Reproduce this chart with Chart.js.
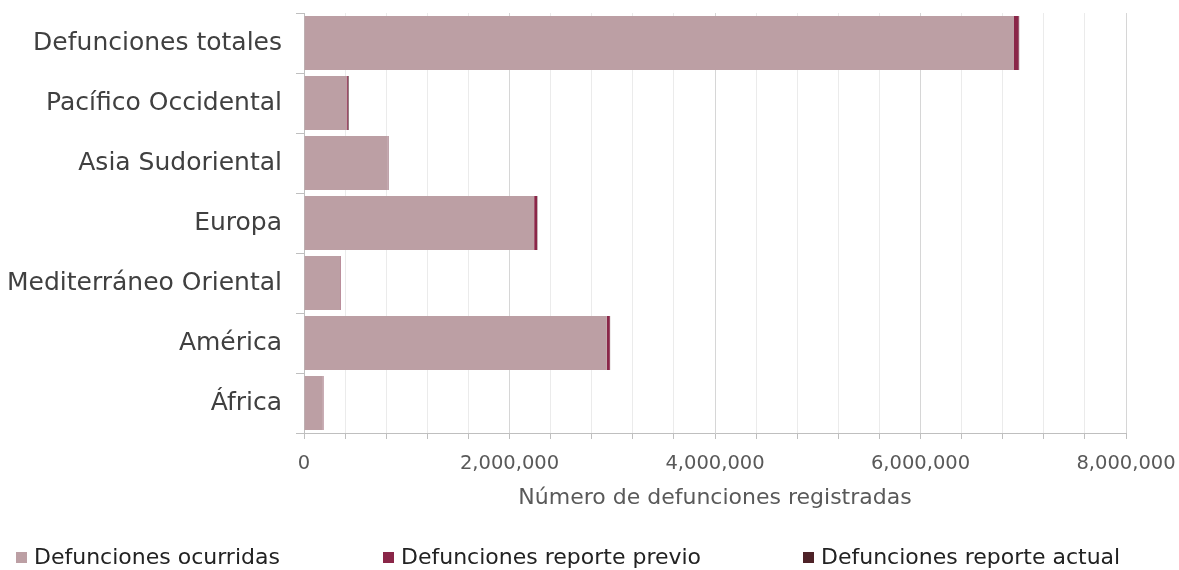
<!DOCTYPE html>
<html>
<head>
<meta charset="utf-8">
<script src="https://cdn.jsdelivr.net/npm/chart.js@4/dist/chart.umd.min.js"></script>
<style>
  html, body { margin: 0; padding: 0; background: #fff; overflow: hidden; }
  #wrap { position: relative; width: 1179px; height: 570px; }
  #legend { position: absolute; left: 0; top: 544px; width: 1179px; height: 26px;
            font-family: 'DejaVu Sans', sans-serif; font-size: 22px; color: #222; }
  .item { position: absolute; top: 0; line-height: 26px; white-space: nowrap; }
  .box { display: inline-block; width: 11px; height: 11px; margin-right: 7px; vertical-align: 1px; }
</style>
</head>
<body>
<div id="wrap">
  <canvas id="chart"></canvas>
  <div id="legend"></div>
</div>
<script>
const categories = ['Defunciones totales', 'Pacífico Occidental', 'Asia Sudoriental', 'Europa', 'Mediterráneo Oriental', 'América', 'África'];
const ocurridas = [6910000, 414000, 815000, 2240000, 352000, 2946000, 183000];
const reportePrevio = [45000, 12000, 4000, 28000, 4000, 30000, 4000];
const reporteActual = [5000, 8000, 3000, 3000, 2000, 3000, 2000];
const seriesNames = ['Defunciones ocurridas', 'Defunciones reporte previo', 'Defunciones reporte actual'];
const seriesColors = ['#bc9fa4', '#8a2648', '#4e2228'];

const font = "'DejaVu Sans', sans-serif";

// legend drawn as html so the item spacing matches the original
const legendX = [16, 383, 803];
const legendEl = document.getElementById('legend');
seriesNames.forEach((name, i) => {
    const item = document.createElement('div');
    item.className = 'item';
    item.style.left = legendX[i] + 'px';
    item.innerHTML = '<span class="box" style="background:' + seriesColors[i] + '"></span>' + name;
    legendEl.appendChild(item);
});

new Chart(document.getElementById('chart'), {
    type: 'bar',
    data: {
        labels: categories,
        datasets: [
            { label: seriesNames[0], data: ocurridas, backgroundColor: seriesColors[0] },
            { label: seriesNames[1], data: reportePrevio, backgroundColor: seriesColors[1] },
            { label: seriesNames[2], data: reporteActual, backgroundColor: seriesColors[2] }
        ]
    },
    options: {
        indexAxis: 'y',
        responsive: true,
        maintainAspectRatio: false,
        animation: false,
        barPercentage: 0.9,
        categoryPercentage: 1,
        layout: { padding: { left: 0, right: 53, top: 13, bottom: 61 } },
        scales: {
            x: {
                stacked: true,
                min: 0,
                max: 8000000,
                afterFit: s => { s.paddingLeft = 0; s.paddingRight = 0; s.height = 76; },
                ticks: {
                    stepSize: 400000,
                    autoSkip: false,
                    maxRotation: 0,
                    color: '#595959',
                    font: { family: font, size: 19.5, lineHeight: 1 },
                    padding: 15,
                    callback: v => v % 2000000 === 0 ? v.toLocaleString('en-US') : ''
                },
                grid: {
                    color: ctx => ctx.tick && ctx.tick.value % 2000000 === 0 ? '#d6d6d6' : '#ebebeb',
                    tickColor: '#bfbfbf',
                    tickLength: 6
                },
                border: { color: '#bfbfbf' },
                title: {
                    display: true,
                    text: 'Número de defunciones registradas',
                    color: '#595959',
                    font: { family: font, size: 22, lineHeight: 1 },
                    padding: { top: 0, bottom: 0 }
                }
            },
            y: {
                stacked: true,
                afterFit: s => { s.width = 304; s.paddingTop = 0; s.paddingBottom = 0; },
                ticks: {
                    color: '#404040',
                    font: { family: font, size: 25 },
                    padding: 14
                },
                grid: { drawOnChartArea: false, tickLength: 8, tickColor: '#bfbfbf' },
                border: { color: '#bfbfbf' }
            }
        },
        plugins: {
            legend: { display: false },
            tooltip: { enabled: false }
        }
    }
});
</script>
</body>
</html>
